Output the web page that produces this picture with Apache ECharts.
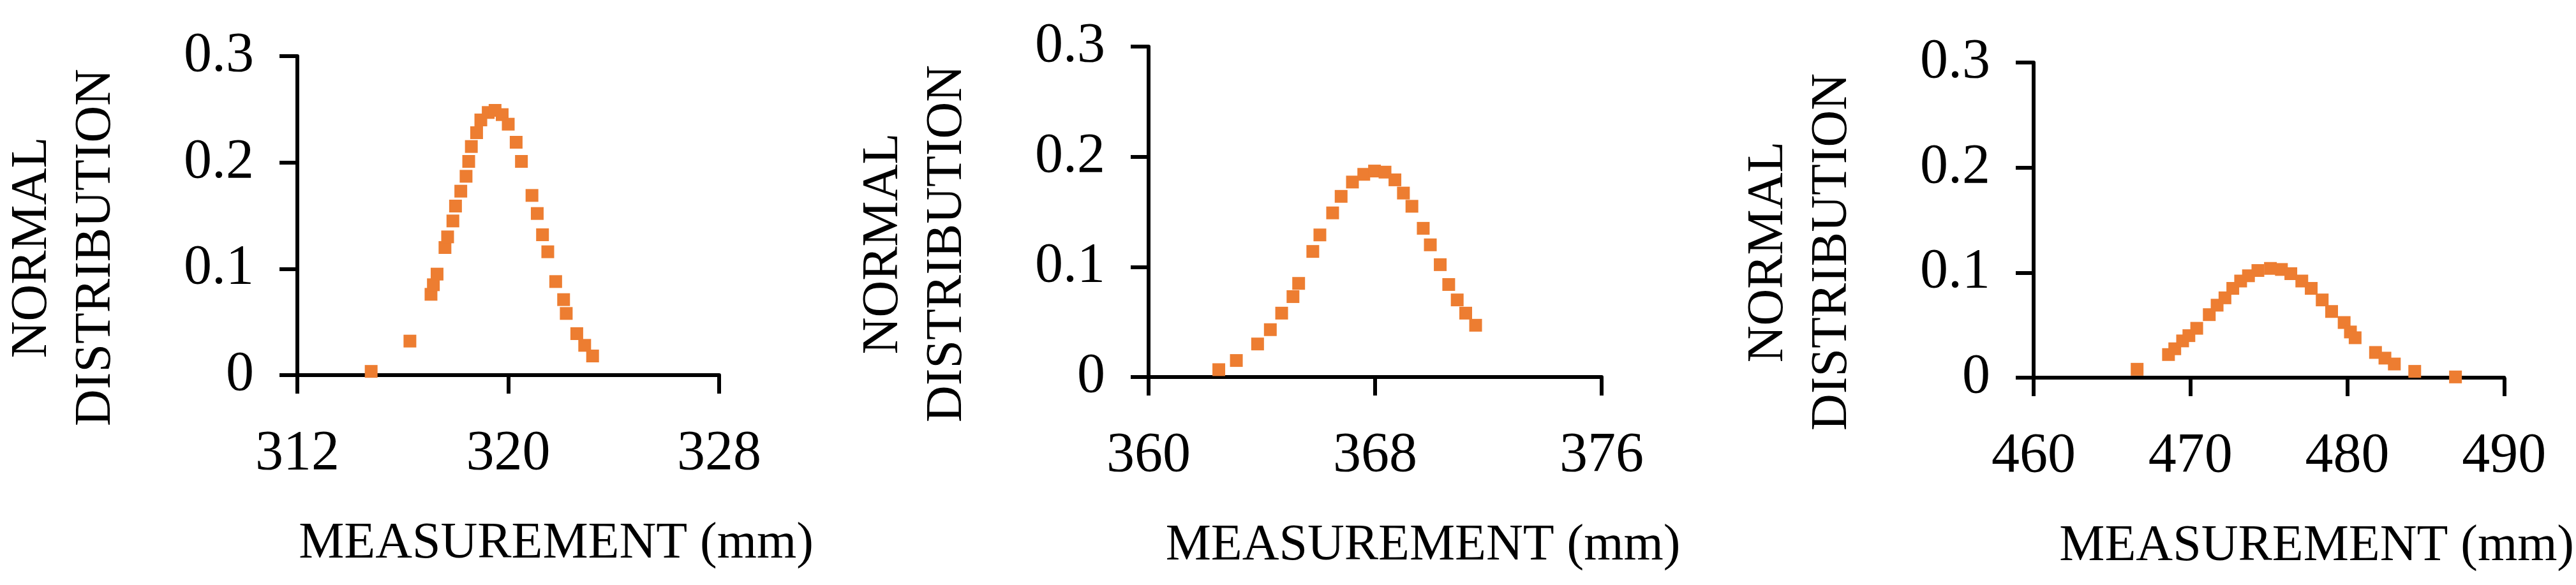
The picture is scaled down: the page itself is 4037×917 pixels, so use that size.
<!DOCTYPE html>
<html>
<head>
<meta charset="utf-8">
<script src="https://cdn.jsdelivr.net/npm/echarts@6/dist/echarts.min.js"></script>
<style>html,body{margin:0;padding:0;background:#fff}#chart{width:4037px;height:917px}</style>
</head>
<body>
<div id="chart"></div>
<script>
// panel 1 : 312 - 328
var x1 = [314.8, 316.27, 317.07, 317.16, 317.3, 317.6, 317.7, 317.9, 318.0, 318.2, 318.4, 318.5, 318.6, 318.8, 318.96, 319.24, 319.5, 319.77, 320.0, 320.3, 320.5, 320.9, 321.1, 321.3, 321.5, 321.8, 322.1, 322.2, 322.6, 322.9, 323.2];
var y1 = [0.0035, 0.032, 0.076, 0.085, 0.095, 0.12, 0.13, 0.145, 0.159, 0.173, 0.187, 0.201, 0.215, 0.228, 0.24, 0.247, 0.249, 0.245, 0.236, 0.219, 0.201, 0.169, 0.152, 0.132, 0.116, 0.088, 0.071, 0.058, 0.039, 0.028, 0.018];
// panel 2 : 360 - 376
var x2 = [362.48, 363.1, 363.85, 364.3, 364.7, 365.1, 365.3, 365.8, 366.05, 366.5, 366.8, 367.2, 367.6, 367.98, 368.35, 368.7, 369.0, 369.3, 369.7, 369.95, 370.3, 370.6, 370.9, 371.2, 371.55];
var y2 = [0.0067, 0.015, 0.03, 0.043, 0.058, 0.073, 0.085, 0.114, 0.129, 0.149, 0.164, 0.177, 0.184, 0.187, 0.186, 0.179, 0.167, 0.155, 0.135, 0.12, 0.102, 0.084, 0.07, 0.058, 0.047];
// panel 3 : 460 - 490
var x3 = [466.6, 468.6, 469.0, 469.5, 469.9, 470.4, 471.2, 471.7, 472.2, 472.7, 473.2, 473.7, 474.3, 475.1, 475.8, 476.4, 477.1, 477.7, 478.4, 479.0, 479.8, 480.2, 480.5, 481.8, 482.4, 483.0, 484.3, 486.9];
var y3 = [0.008, 0.022, 0.0275, 0.035, 0.04, 0.047, 0.06, 0.069, 0.076, 0.085, 0.092, 0.097, 0.102, 0.104, 0.103, 0.099, 0.092, 0.085, 0.074, 0.063, 0.0525, 0.0435, 0.038, 0.024, 0.0186, 0.013, 0.006, 0.0007];

var xRanges = [[312, 328, 8], [360, 376, 8], [460, 490, 10]];
var font = '"Liberation Serif", "DejaVu Serif", serif';

function pairs(xs, ys) {
    return xs.map(function (v, i) { return [v, ys[i]]; });
}

var grids = [
    {left: 423, right: 2910, top: 88, bottom: 329},
    {left: 1800, right: 1527, top: 63, bottom: 326},
    {left: 3187, right: 90, top: 98, bottom: 325}
];

var xAxes = [], yAxes = [], series = [];
var sets = [pairs(x1, y1), pairs(x2, y2), pairs(x3, y3)];
for (var i = 0; i < 3; i++) {
    xAxes.push({
        gridIndex: i, type: 'value',
        min: xRanges[i][0], max: xRanges[i][1], interval: xRanges[i][2],
        name: 'MEASUREMENT (mm)', nameLocation: 'middle', nameGap: 225,
        nameTextStyle: {fontFamily: font, fontSize: 80, color: '#000', padding: [0, 0, 0, 150]},
        axisLine: {onZero: false, lineStyle: {color: '#000', width: 6}},
        axisTick: {show: true, length: 29, lineStyle: {color: '#000', width: 6}},
        axisLabel: {fontFamily: font, fontSize: 88, color: '#000', margin: 80},
        splitLine: {show: false}
    });
    yAxes.push({
        gridIndex: i, type: 'value', min: 0, max: 0.3, interval: 0.1,
        name: 'NORMAL\nDISTRIBUTION', nameLocation: 'middle', nameGap: 265,
        nameTextStyle: {fontFamily: font, fontSize: 80, color: '#000', lineHeight: 100, padding: [0, 100, 0, 0]},
        axisLine: {show: true, lineStyle: {color: '#000', width: 6}},
        axisTick: {show: true, length: 28, lineStyle: {color: '#000', width: 6}},
        axisLabel: {fontFamily: font, fontSize: 88, color: '#000', margin: 68},
        splitLine: {show: false}
    });
    series.push({
        type: 'scatter', xAxisIndex: i, yAxisIndex: i,
        symbol: 'rect', symbolSize: 20,
        itemStyle: {color: '#ED7D31', opacity: 1},
        data: sets[i]
    });
}

var chart = echarts.init(document.getElementById('chart'));
chart.setOption({
    animation: false,
    backgroundColor: '#fff',
    grid: grids,
    xAxis: xAxes,
    yAxis: yAxes,
    series: series
});
</script>
</body>
</html>
